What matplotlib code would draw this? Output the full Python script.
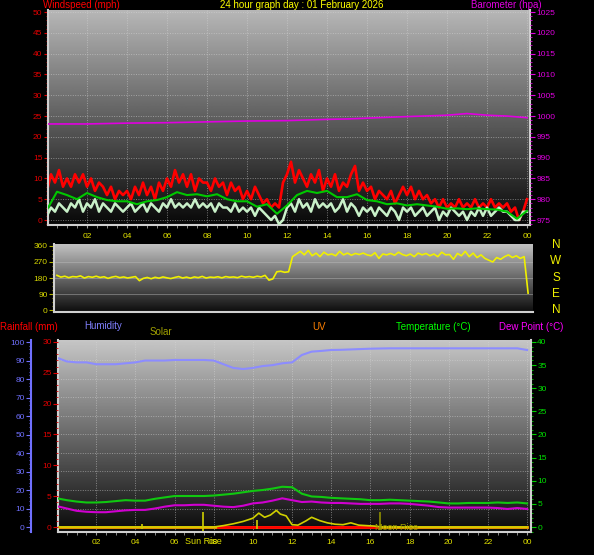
import matplotlib

matplotlib.use("Agg")
import matplotlib.pyplot as plt
import numpy as np
from matplotlib.ticker import MultipleLocator

plt.rcParams["font.family"] = ["Liberation Sans", "DejaVu Sans"]

# --- wind (top panel), one reading every 12 minutes -------------------------
gust = [
    7, 11, 9, 12, 8,
    10, 8, 11, 9, 11,
    8, 10, 7, 9, 8,
    6, 8, 5, 7, 6,
    7, 5, 8, 6, 9,
    6, 8, 5, 9, 7,
    10, 8, 12, 9, 11,
    8, 11, 7, 10, 9,
    9, 7, 10, 8, 9,
    6, 9, 7, 8, 5,
    7, 5, 8, 6, 4,
    5, 3, 4, 3, 9,
    11, 14, 9, 12, 10,
    8, 11, 9, 12, 7,
    10, 8, 11, 7, 9,
    8, 11, 13, 7, 9,
    7, 8, 5, 7, 6,
    5, 7, 4, 6, 8,
    6, 8, 5, 7, 5,
    6, 4, 5, 3, 5,
    3, 4, 3, 5, 3,
    4, 3, 5, 3, 4,
    3, 5, 3, 4, 3,
    4, 2, 3, 0, 2,
    5,
]
speed = [
    1, 3, 2, 4, 3,
    2, 4, 3, 5, 2,
    4, 3, 5, 2, 4,
    3, 2, 4, 3, 2,
    3, 4, 2, 3, 4,
    2, 4, 3, 2, 4,
    3, 5, 3, 4, 3,
    4, 3, 5, 3, 4,
    3, 4, 2, 4, 3,
    3, 2, 4, 2, 3,
    2, 3, 1, 3, 2,
    1, 0, 1, -1, 0,
    3, 4, 2, 5, 3,
    4, 2, 5, 3, 4,
    3, 4, 2, 3, 5,
    2, 4, 3, 1, 3,
    2, 3, 1, 3, 2,
    1, 3, 2, 0, 3,
    2, 3, 1, 2, 3,
    1, 2, 3, 0, 2,
    1, 3, 2, 1, 2,
    0, 2, 1, 3, 1,
    3, 1, 2, 3, 2,
    2, 1, 0, 0, 2,
    2,
]
# half-hourly average wind speed
avg_speed = [
    2.5, 6.8, 6.0, 5.0, 6.5, 5.5, 4.8, 4.5, 4.5, 3.8,
    4.5, 4.8, 5.5, 6.7, 6.0, 6.2, 5.7, 6.2, 5.0, 4.5,
    4.5, 3.2, 3.8, 1.5, 3.5, 6.0, 7.0, 6.5, 7.0, 5.5,
    5.5, 6.2, 4.8, 4.5, 3.8, 4.0, 3.5, 3.8, 3.5, 3.2,
    2.7, 2.8, 2.6, 2.8, 2.6, 2.5, 2.0, 0.3, 2.2,
]
baro_hours = [0, 2, 4, 6, 8, 10, 12, 14, 15, 17.6, 20, 21, 22, 23, 24]
barometer = [998.1, 998.1, 998.3, 998.4, 998.6, 998.8, 998.9, 999.2,
             999.3, 999.8, 1000.2, 1000.6, 1000.2, 1000.0, 999.6]

# --- wind direction (middle panel), every 12 minutes ------------------------
direction = [
    195, 185, 190, 182, 188,
    186, 192, 180, 188, 184,
    190, 183, 187, 178, 185,
    189, 182, 186, 180, 184,
    188, 165, 178, 183, 176,
    184, 179, 186, 181, 177,
    183, 188, 180, 185, 179,
    186, 182, 189, 180, 185,
    183, 187, 181, 188, 184,
    186, 182, 190, 185, 188,
    184, 190, 186, 195, 168,
    175, 215, 218, 212, 215,
    300, 315, 330, 310, 335,
    305, 320, 300, 325, 310,
    315, 305, 330, 310, 320,
    308, 318, 312, 320, 310,
    305, 322, 290, 315, 310,
    318, 308, 325, 312, 305,
    315, 300, 320, 310, 318,
    305, 315, 300, 325, 310,
    312, 285, 318, 305, 330,
    300, 320, 295, 310, 290,
    280, 270, 295, 285, 300,
    310, 295, 305, 290, 300,
    95,
]

# --- bottom panel, half-hourly -----------------------------------------------
temperature = [
    6.2, 5.8, 5.5, 5.3, 5.3, 5.4, 5.6, 5.8, 5.7, 5.7,
    6.1, 6.4, 6.7, 6.7, 6.7, 6.7, 6.8, 7.0, 7.2, 7.5,
    7.8, 8.0, 8.3, 8.7, 8.6, 7.2, 6.6, 6.5, 6.3, 6.2,
    6.1, 6.0, 5.8, 5.8, 5.9, 5.8, 5.7, 5.6, 5.5, 5.3,
    5.1, 5.1, 5.2, 5.2, 5.2, 5.3, 5.2, 5.3, 5.1,
]
dew_point = [
    4.5, 4.0, 3.5, 3.3, 3.2, 3.2, 3.4, 3.6, 3.7, 3.7,
    4.0, 4.4, 4.7, 4.7, 4.8, 4.8, 4.6, 4.4, 4.3, 4.6,
    5.1, 5.3, 5.7, 6.2, 5.8, 5.4, 5.5, 5.3, 5.2, 5.2,
    5.1, 5.0, 5.0, 5.0, 5.1, 5.1, 5.0, 4.8, 4.6, 4.3,
    4.2, 4.2, 4.2, 4.2, 4.2, 4.1, 3.9, 4.1, 3.9,
]
humidity = [
    91.5, 89.5, 89.0, 89.0, 88.0, 88.0, 88.0, 88.5, 89.0, 90.0,
    90.0, 90.0, 90.3, 90.3, 90.3, 90.3, 90.0, 88.0, 86.0, 85.4,
    86.0, 87.0, 87.5, 88.5, 89.0, 93.0, 94.8, 95.2, 95.7, 95.8,
    96.0, 96.2, 96.4, 96.5, 96.6, 96.6, 96.6, 96.6, 96.6, 96.6,
    96.6, 96.6, 96.6, 96.6, 96.6, 96.6, 96.6, 96.6, 95.7,
]
solar_hours = [0, 8.0, 8.5, 9.0, 9.5, 10.0, 10.3, 10.6, 10.9, 11.2, 11.4, 11.7,
               12.0, 12.3, 12.7, 13.0, 13.4, 13.8, 14.2, 14.6, 15.0, 15.4,
               15.8, 16.2, 16.6, 24]
solar = [0, 0, 0.3, 0.7, 1.2, 1.9, 3.0, 2.1, 2.6, 3.6, 2.8, 2.4,
         0.5, 0.4, 1.3, 2.1, 1.4, 0.9, 0.6, 0.5, 0.9, 0.4,
         0.3, 0.2, 0, 0]
rain_hours = [8.2, 16.4]
rain = [0, 0]
uv_hours = [0, 24]
uv = [0, 0]
sun_rise = 7.45
moon_rise = 16.5
event_marks = [4.35, 10.2]
event_tops = [0.6, 1.6]

hour_labels = ["02", "04", "06", "08", "10", "12", "14", "16", "18", "20", "22", "00"]
hour_ticks = list(range(2, 25, 2))

W, H = 594, 555
TICK_SIZE = 6


def box(x0, y0, x1, y1):
    return [x0 / W, 1 - y1 / H, (x1 - x0) / W, (y1 - y0) / H]


def shade(ax, top, bottom):
    grad = np.linspace(top, bottom, 256).reshape(-1, 1)
    ax.imshow(grad, cmap="gray", vmin=0, vmax=1, aspect="auto",
              extent=[0, 1, 0, 1], transform=ax.transAxes, zorder=0)


def frame(ax, sides=("left", "bottom", "right")):
    for s in ax.spines:
        ax.spines[s].set_visible(s in sides)
        ax.spines[s].set_color("#d0d0d0")
        ax.spines[s].set_linewidth(1.5)


def label(x, y, text, color, size=7, ha="left"):
    plt.gcf().text(x / W, 1 - y / H, text, color=color, fontsize=size,
                   ha=ha, va="center")


grid_kw = dict(color="#d8d8d8", linestyle=(0, (1, 1.5)), linewidth=0.7, alpha=0.5)

fig = plt.figure(figsize=(W / 100, H / 100), dpi=100, facecolor="black")

# ---------------- top: wind speed + barometer ----------------
ax1 = fig.add_axes(box(48, 10, 530, 225))
shade(ax1, 0.72, 0.03)
h12 = np.linspace(0, 24, len(gust))
h30 = np.linspace(0, 24, len(avg_speed))
ax1.plot(h12, gust, color="#ff0000", lw=1.9, zorder=2)
ax1.plot(h12, speed, color="#c8f0c8", lw=1.8, zorder=3)
ax1.plot(h30, avg_speed, color="#00c800", lw=1.5, zorder=4)
ax1.set_xlim(0.05, 24.15)
ax1.set_ylim(-1.2, 50.5)
ax1.yaxis.set_major_locator(MultipleLocator(5))
ax1.yaxis.set_minor_locator(MultipleLocator(1))
ax1.set_xticks(hour_ticks, hour_labels)
ax1.xaxis.set_minor_locator(MultipleLocator(0.5))
ax1.tick_params(axis="y", which="both", colors="#e00000", labelsize=TICK_SIZE, pad=1)
ax1.tick_params(axis="y", which="major", length=3)
ax1.tick_params(axis="y", which="minor", length=1.5)
ax1.tick_params(axis="x", which="both", colors="#a0a0a0", labelcolor="#e0e000",
                labelsize=TICK_SIZE, length=2, pad=4)
ax1.grid(True, **grid_kw)
frame(ax1)

axb = ax1.twinx()
axb.plot(baro_hours, barometer, color="#e000e0", lw=1.2)
axb.set_ylim(973.8, 1025.5)
axb.yaxis.set_major_locator(MultipleLocator(5))
axb.yaxis.set_minor_locator(MultipleLocator(1))
axb.tick_params(axis="y", which="both", colors="#e000e0", labelsize=TICK_SIZE, pad=1)
axb.tick_params(axis="y", which="minor", length=1.5)
for s in axb.spines.values():
    s.set_visible(False)

# ---------------- middle: wind direction ----------------
ax2 = fig.add_axes(box(54, 244, 533, 312))
shade(ax2, 0.76, 0.05)
for v in (90, 180, 270):
    ax2.axhline(v, color="#c0c0c0", lw=0.6, alpha=0.5, zorder=1)
ax2.plot(np.linspace(0, 24, len(direction)), direction, color="#f0f000", lw=1.2, zorder=2)
ax2.set_xlim(-0.15, 24.25)
ax2.set_ylim(-11, 371)
ax2.set_yticks([0, 90, 180, 270, 360])
ax2.yaxis.set_minor_locator(MultipleLocator(22.5))
ax2.set_xticks([])
ax2.tick_params(axis="y", which="both", colors="#b0b000", labelcolor="#d8d800",
                labelsize=TICK_SIZE, pad=1)
ax2.tick_params(axis="y", which="minor", length=1.5)
frame(ax2, ("left", "bottom"))
for i, c in enumerate("NWSEN"):
    label(556, 245 + i * 16.3, c, "#f0f000", size=8.5, ha="center")

# ---------------- bottom: temperature, dew point, humidity, rain ----------------
ax3 = fig.add_axes(box(58, 340, 531, 532))
shade(ax3, 0.78, 0.04)
for hv in range(10, 100, 10):
    ax3.axhline(hv / 2.5, **grid_kw, zorder=1)
ax3.plot(uv_hours, uv, color="#ffa000", lw=2, zorder=2)
ax3.plot(rain_hours, rain, color="#ff0000", lw=2, zorder=3)
ax3.plot(h30, temperature, color="#10c810", lw=1.5, zorder=4)
ax3.plot(h30, dew_point, color="#d000d0", lw=1.5, zorder=4)
ax3.plot(solar_hours, solar, color="#d0d000", lw=1.2, zorder=5)
ax3.vlines(sun_rise, -0.8, 3.2, color="#d0d000", lw=1.2, zorder=5)
ax3.vlines(moon_rise, -0.6, 3.2, color="#909000", lw=1.2, zorder=5)
ax3.vlines(event_marks, -0.4, event_tops, color="#d0d000", lw=1.2, zorder=5)
ax3.text(moon_rise - 0.25, 0, "Moon Rise", color="#a0a000", fontsize=6.5,
         va="center", ha="left", zorder=6)
ax3.set_xlim(0.05, 24.2)
ax3.set_ylim(-1.08, 40.43)
ax3.set_xticks(hour_ticks, hour_labels)
ax3.xaxis.set_minor_locator(MultipleLocator(0.5))
ax3.tick_params(axis="x", which="both", colors="#a0a0a0", labelcolor="#e0e000",
                labelsize=TICK_SIZE, length=2, pad=3)
ax3.grid(True, axis="x", **grid_kw)
frame(ax3)
label(203, 542, "Sun Rise", "#e0e000", size=6.5, ha="center")

axr = ax3.twinx()
axh = ax3.twinx()

# twinx moves the host ticks to the left, so put temperature back on the right
ax3.yaxis.tick_right()
ax3.yaxis.set_major_locator(MultipleLocator(5))
ax3.yaxis.set_minor_locator(MultipleLocator(1))
ax3.tick_params(axis="y", which="both", colors="#00d000", labelcolor="#00e000",
                labelsize=TICK_SIZE, pad=1)
ax3.tick_params(axis="y", which="minor", length=1.5)

axr.set_ylim(-0.81, 30.32)
axr.yaxis.tick_left()
axr.yaxis.set_major_locator(MultipleLocator(5))
axr.yaxis.set_minor_locator(MultipleLocator(1))
axr.tick_params(axis="y", which="both", colors="#e00000", labelsize=TICK_SIZE, pad=1)
axr.tick_params(axis="y", which="minor", length=1.5)
for s in axr.spines.values():
    s.set_visible(False)

axh.plot(h30, humidity, color="#8c8cff", lw=1.5)
axh.set_ylim(-2.7, 101.1)
axh.yaxis.tick_left()
for s in axh.spines.values():
    s.set_visible(False)
axh.spines["left"].set_visible(True)
axh.spines["left"].set_position(("axes", -0.057))
axh.spines["left"].set_color("#7070ff")
axh.spines["left"].set_linewidth(1.5)
axh.yaxis.set_major_locator(MultipleLocator(10))
axh.yaxis.set_minor_locator(MultipleLocator(2))
axh.tick_params(axis="y", which="both", colors="#7070ff", labelsize=TICK_SIZE, pad=1)
axh.tick_params(axis="y", which="minor", length=1.5)

# ---------------- headings ----------------
label(43, 5, "Windspeed (mph)", "#ff0000")
label(302, 5, "24 hour graph day : 01 February 2026", "#ffff00", ha="center")
label(471, 5, "Barometer (hpa)", "#e000e0")
label(0, 327, "Rainfall (mm)", "#ff0000")
label(84, 326, "Humidity", "#8080ff")
label(150, 332, "Solar", "#a0a000")
label(312, 327, "UV", "#ff8000")
label(396, 327, "Temperature (°C)", "#00ff00")
label(499, 327, "Dew Point (°C)", "#ff00ff")

fig.savefig("out.png", dpi=100, facecolor="black")
